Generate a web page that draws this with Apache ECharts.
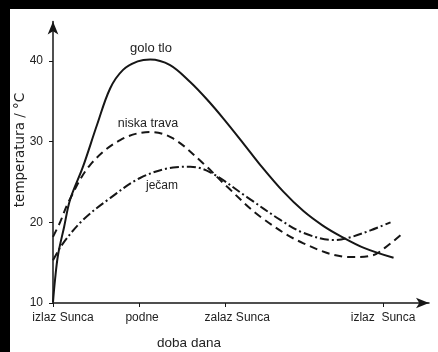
<!DOCTYPE html>
<html>
<head>
<meta charset="utf-8">
<script src="https://cdn.jsdelivr.net/npm/echarts@6/dist/echarts.min.js"></script>
<style>
  html, body { margin: 0; padding: 0; background: #000; width: 438px; height: 352px; overflow: hidden; }
  #chart { position: absolute; left: 10px; top: 9px; width: 428px; height: 343px; background: #fff; }
</style>
</head>
<body>
<div id="chart"></div>
<script>
// time axis in hours after sunrise
const xTickValues = [0, 6, 12, 23];
const xTickLabels = ['izlaz Sunca', 'podne', 'zalaz Sunca', 'izlaz  Sunca'];
const yTickValues = [10, 20, 30, 40];

const goloTlo = [
  [0, 10.1], [0.14, 12.85], [0.35, 15.95], [0.77, 19.4], [1.19, 22.8], [2.09, 26.9],
  [3.07, 32.1], [3.98, 36.6], [4.88, 38.9], [5.9, 39.95], [6.77, 40.2], [8.16, 39.5],
  [9.56, 37.4], [10.75, 35.2], [11.86, 32.9], [13.26, 29.8], [14.45, 27.1], [16.05, 23.8],
  [17.45, 21.4], [18.8, 19.6], [20.03, 18.3], [21.71, 16.8], [23.73, 15.6]
];
const niskaTrava = [
  [0, 18.2], [0.49, 20.0], [1.1, 22.6], [2.58, 27.1], [4.68, 30.2], [6.77, 31.2],
  [8.37, 30.4], [10.47, 27.3], [12.14, 24.4], [14.45, 20.7], [17.45, 17.4], [20.73, 15.7],
  [22.26, 15.9], [23.17, 16.9], [24.21, 18.4]
];
const jecam = [
  [0, 15.3], [0.70, 17.4], [2.09, 20.3], [3.98, 23.0], [6.07, 25.5], [8.37, 26.8],
  [9.56, 26.9], [10.96, 26.2], [13.54, 23.1], [15.84, 20.3], [17.45, 18.7], [19.54, 17.8],
  [20.52, 18.05], [22.12, 19.0], [23.52, 20.0]
];

const xPad = [20, 6, 24, 0];
const ink = '#161616';
const txt = '#222';

const chart = echarts.init(document.getElementById('chart'), null, { renderer: 'canvas' });
const rich = {};
xTickLabels.forEach((l, i) => { rich['l' + i] = { padding: [0, 0, 0, xPad[i]], fontSize: 12, color: txt, fontFamily: 'Liberation Sans' }; });

function lineSeries(name, data, type) {
  return {
    name: name, type: 'line', data: data, symbol: 'none',
    smooth: 0.35,
    lineStyle: { color: ink, width: 2, type: type },
    z: 3
  };
}

chart.setOption({
  animation: false,
  backgroundColor: '#fff',
  grid: { left: 43, right: 9, top: 12.5, bottom: 49, containLabel: false, outerBoundsMode: 'none' },
  xAxis: {
    type: 'value', min: 0, max: 26.2,
    axisLine: { show: true, lineStyle: { color: ink, width: 1.5 }, symbol: ['none', 'arrow'], symbolSize: [8, 13] },
    axisTick: { show: true, length: 4, customValues: xTickValues, lineStyle: { color: ink } },
    axisLabel: {
      customValues: xTickValues, margin: 9,
      formatter: function (v) { const i = xTickValues.indexOf(v); return i >= 0 ? '{l' + i + '|' + xTickLabels[i] + '}' : ''; },
      rich: rich
    },
    splitLine: { show: false }
  },
  yAxis: {
    type: 'value', min: 10, max: 44.9,
    axisLine: { show: true, lineStyle: { color: ink, width: 1.5 }, symbol: ['none', 'arrow'], symbolSize: [8, 13] },
    axisTick: { show: true, length: 4, customValues: yTickValues, lineStyle: { color: ink } },
    axisLabel: { customValues: yTickValues, margin: 10, fontSize: 12, color: txt, fontFamily: 'Liberation Sans' },
    splitLine: { show: false }
  },
  graphic: [
    { type: 'text', x: 10, y: 141, rotation: Math.PI / 2,
      style: { text: 'temperatura / °C', fill: txt, font: '13.5px "DejaVu Sans"', align: 'center', verticalAlign: 'middle' } },
    { type: 'text', x: 179, y: 334,
      style: { text: 'doba dana', fill: txt, font: '13.5px "Liberation Sans"', align: 'center', verticalAlign: 'middle' } },
    { type: 'text', x: 141, y: 39,
      style: { text: 'golo tlo', fill: txt, font: '13px "Liberation Sans"', align: 'center', verticalAlign: 'middle' } },
    { type: 'text', x: 138, y: 115,
      style: { text: 'niska trava', fill: txt, font: '12.5px "Liberation Sans"', align: 'center', verticalAlign: 'middle' } },
    { type: 'text', x: 152, y: 177,
      style: { text: 'ječam', fill: txt, font: '12px "Liberation Sans"', align: 'center', verticalAlign: 'middle' } }
  ],
  series: [
    lineSeries('golo tlo', goloTlo, 'solid'),
    lineSeries('niska trava', niskaTrava, [8, 5]),
    lineSeries('ječam', jecam, [9, 3, 2, 3])
  ]
});
</script>
</body>
</html>
